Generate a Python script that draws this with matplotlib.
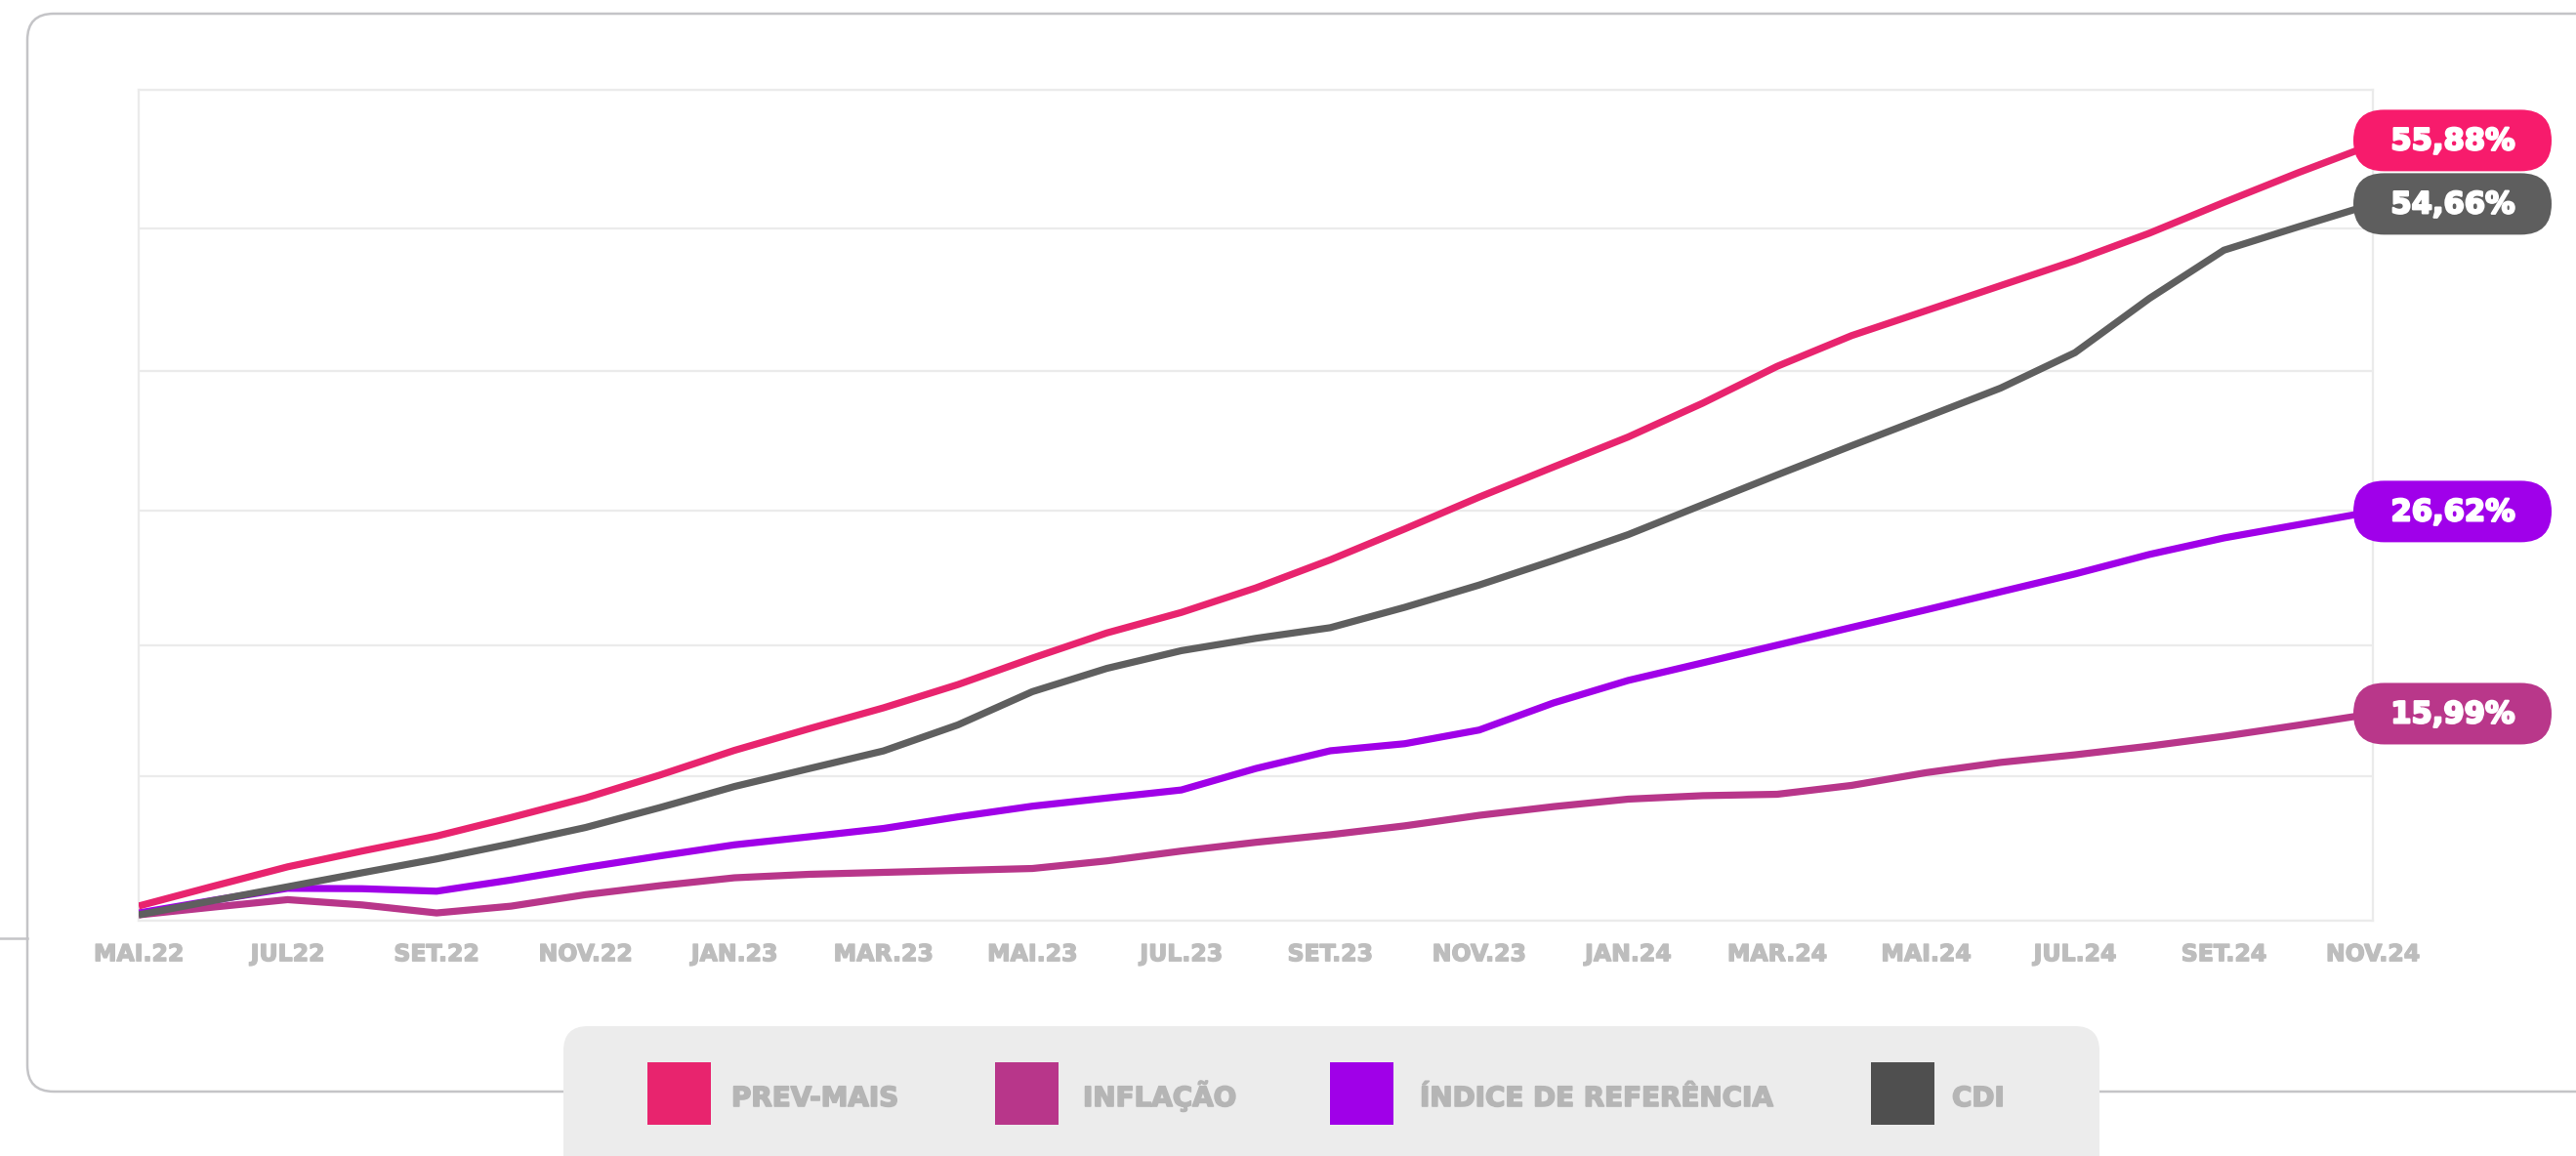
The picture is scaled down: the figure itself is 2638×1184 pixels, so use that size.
import matplotlib
matplotlib.use("Agg")
import matplotlib.pyplot as plt
import matplotlib.patheffects as pe
from matplotlib.patches import FancyBboxPatch, Rectangle

# ---------------- data ----------------
tick_labels = ["MAI.22", "JUL22", "SET.22", "NOV.22", "JAN.23", "MAR.23", "MAI.23", "JUL.23",
               "SET.23", "NOV.23", "JAN.24", "MAR.24", "MAI.24", "JUL.24", "SET.24", "NOV.24"]
months = list(range(31))  # monthly points, MAI.22 .. NOV.24

prev_mais = [1.06, 2.49, 3.89, 5.03, 6.11, 7.45, 8.86, 10.52, 12.30, 13.86, 15.37, 17.05, 18.96,
             20.78, 22.26, 24.03, 26.06, 28.29, 30.59, 32.77, 34.93, 37.37, 40.03, 42.25, 44.05,
             45.86, 47.66, 49.65, 51.87, 54.02, 56.06]
cdi = [0.42, 1.45, 2.45, 3.46, 4.46, 5.56, 6.73, 8.17, 9.69, 10.98, 12.26, 14.14, 16.54, 18.22,
       19.50, 20.39, 21.16, 22.63, 24.24, 26.02, 27.88, 30.04, 32.19, 34.30, 36.37, 38.46, 41.02,
       44.94, 48.42, 50.11, 51.76]
indice = [0.56, 1.47, 2.34, 2.31, 2.13, 2.94, 3.84, 4.68, 5.48, 6.06, 6.66, 7.50, 8.27, 8.86,
          9.44, 10.99, 12.27, 12.78, 13.77, 15.73, 17.35, 18.62, 19.90, 21.18, 22.45, 23.75,
          25.04, 26.45, 27.64, 28.60, 29.55]
inflacao = [0.42, 0.98, 1.52, 1.14, 0.56, 1.05, 1.88, 2.53, 3.10, 3.35, 3.49, 3.63, 3.77, 4.32,
            5.03, 5.66, 6.21, 6.85, 7.61, 8.24, 8.78, 9.03, 9.13, 9.77, 10.69, 11.43, 11.98,
            12.61, 13.32, 14.12, 14.95]
grid_values = [0, 10.4, 19.9, 29.6, 39.7, 50.0, 60]

series_names = ["PREV-MAIS", "INFLAÇÃO", "ÍNDICE DE REFERÊNCIA", "CDI"]
end_labels = {"PREV-MAIS": "55,88%", "CDI": "54,66%", "ÍNDICE DE REFERÊNCIA": "26,62%",
              "INFLAÇÃO": "15,99%"}

# ---------------- style ----------------
line_colors = {"PREV-MAIS": "#E8246E", "INFLAÇÃO": "#B8368A",
               "ÍNDICE DE REFERÊNCIA": "#A000E8", "CDI": "#5F5F5F"}
pill_colors = {"PREV-MAIS": "#F71B6C", "INFLAÇÃO": "#B9378A",
               "ÍNDICE DE REFERÊNCIA": "#A000EA", "CDI": "#5E5E5E"}
legend_colors = {"PREV-MAIS": "#E8246E", "INFLAÇÃO": "#B8368A",
                 "ÍNDICE DE REFERÊNCIA": "#A000E8", "CDI": "#4F4F4F"}
values = {"PREV-MAIS": prev_mais, "INFLAÇÃO": inflacao,
          "ÍNDICE DE REFERÊNCIA": indice, "CDI": cdi}

W, H = 2638, 1184
plt.rcParams['font.family'] = ['DejaVu Sans']
fig = plt.figure(figsize=(W / 100, H / 100), dpi=100)

# background overlay in pixel coordinates
bg = fig.add_axes([0, 0, 1, 1], zorder=0)
bg.set_xlim(0, W)
bg.set_ylim(H, 0)
bg.axis('off')

frame_col = "#C4C4C7"
bg.add_patch(FancyBboxPatch((28, 14), 2800, 1104, boxstyle="round,pad=0,rounding_size=27",
                            fc="white", ec=frame_col, lw=1.8, zorder=1))
bg.plot([0, 28], [961, 961], color=frame_col, lw=1.8, zorder=1)

# legend box
bg.add_patch(FancyBboxPatch((577, 1051), 1573, 220, boxstyle="round,pad=0,rounding_size=25",
                            fc="#ECECEC", ec="none", zorder=2))
swatch_x = [663, 1019, 1362, 1916]
text_x = [749, 1109, 1454, 1999]
legend_text_col = "#B5B5B5"
for name, sx, tx in zip(series_names, swatch_x, text_x):
    bg.add_patch(Rectangle((sx, 1088), 65, 64, fc=legend_colors[name], ec="none", zorder=3))
    bg.text(tx, 1133, name, fontsize=20, fontweight="bold", color=legend_text_col,
            va="baseline", ha="left", zorder=3,
            path_effects=[pe.withStroke(linewidth=1.2, foreground=legend_text_col)])

# main axes
ax = fig.add_axes([142 / W, (H - 943) / H, 2288 / W, 851 / H], zorder=1)
ax.set_facecolor("none")
ax.set_xlim(0, 30)
ax.set_ylim(0, 60)
for s in ax.spines.values():
    s.set_color("#EBEBEB")
    s.set_linewidth(1.6)
ax.set_yticks(grid_values)
ax.set_yticklabels([])
ax.tick_params(axis="y", length=0)
ax.grid(axis="y", color="#EBEBEB", lw=1.6)
ax.set_axisbelow(True)
ax.set_xticks(months[::2])
tick_col = "#BDBDBD"
ax.set_xticklabels(tick_labels, fontsize=17, fontweight="bold", color=tick_col)
for t in ax.get_xticklabels():
    t.set_path_effects([pe.withStroke(linewidth=1.0, foreground=tick_col)])
ax.tick_params(axis="x", length=0, pad=16)

for name in ["INFLAÇÃO", "ÍNDICE DE REFERÊNCIA", "CDI", "PREV-MAIS"]:
    ax.plot(months, values[name], color=line_colors[name], lw=5.2,
            solid_joinstyle="miter", solid_capstyle="butt", zorder=3)

# foreground overlay for end pills
fg = fig.add_axes([0, 0, 1, 1], zorder=3)
fg.set_xlim(0, W)
fg.set_ylim(H, 0)
fg.axis('off')
fg.patch.set_alpha(0)

for name in ["INFLAÇÃO", "ÍNDICE DE REFERÊNCIA", "PREV-MAIS", "CDI"]:
    v = values[name][-1]
    _, yd = ax.transData.transform((months[-1], v))
    yc = H - yd
    if name == "PREV-MAIS":
        yc -= 4
    fg.add_patch(FancyBboxPatch((2410, yc - 31.5), 203, 63,
                                boxstyle="round,pad=0,rounding_size=31.5",
                                fc=pill_colors[name], ec="none", zorder=5))
    fg.text(2512, yc + 1, end_labels[name], fontsize=22, fontweight="bold", color="white",
            ha="center", va="center", zorder=6,
            path_effects=[pe.withStroke(linewidth=1.6, foreground="white")])

fig.savefig("out.png", dpi=100)
